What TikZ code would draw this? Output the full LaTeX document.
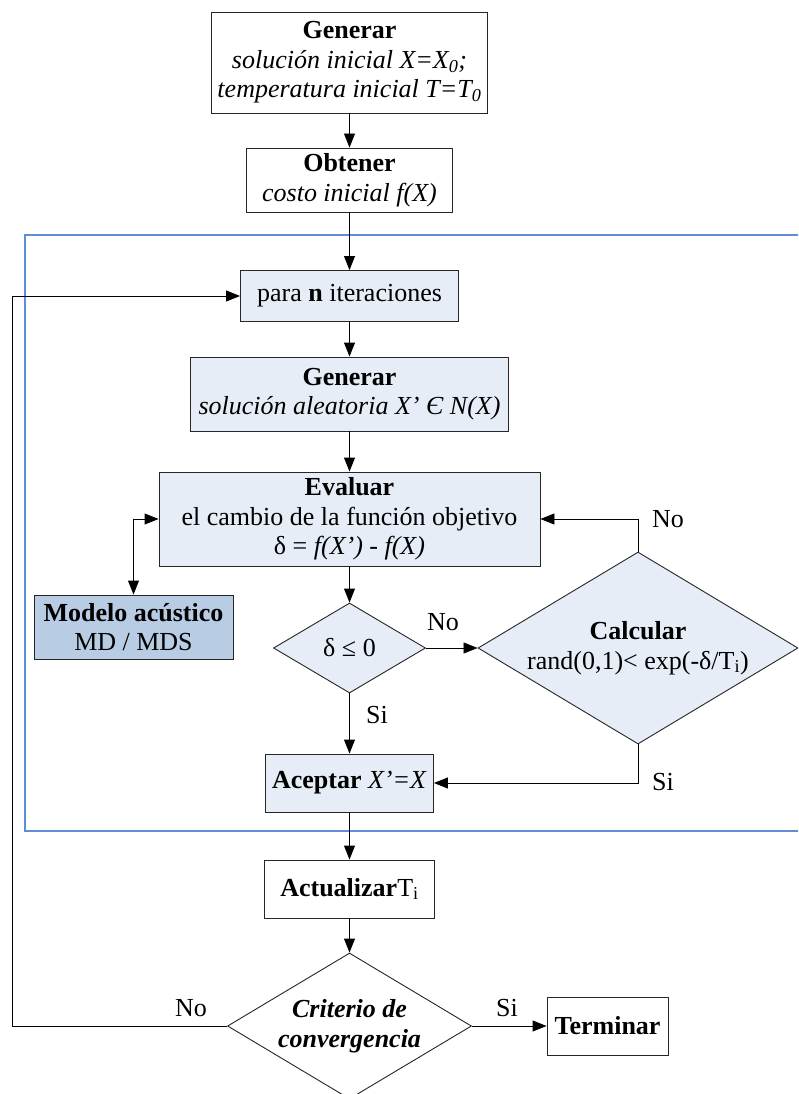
\documentclass[tikz,border=0pt]{standalone}
\usepackage{fontspec}
\setmainfont{Liberation Serif}
\usepackage{tikz}
\usetikzlibrary{shapes.geometric}
\usetikzlibrary{arrows.meta}
\usepackage{xcolor}

\definecolor{boxfill}{RGB}{230,237,247}
\definecolor{modelfill}{RGB}{184,204,228}
\definecolor{framecolor}{RGB}{95,142,212}

\begin{document}
\begin{tikzpicture}[x=1pt, y=-1pt, line width=0.9pt,
    >={Triangle[length=14pt,width=11pt]},
    font=\fontsize{26}{29.5}\selectfont,
    plainbox/.style={draw=black!85, align=center, inner sep=0pt},
    bluebox/.style={plainbox, fill=boxfill},
    decision/.style={diamond, draw=black!85, fill=boxfill, align=center, inner sep=0pt, aspect=1.7},
    lbl/.style={inner sep=0pt}]

\clip (0,0) rectangle (798,1094);

% frame of the inner loop
\draw[framecolor, line width=1.3pt] (810,235) -| (25,831) -- (810,831);

% boxes
\node[plainbox, minimum width=276, minimum height=101] (gen0) at (349.5,62.5)
    {\textbf{Generar}\\ \textit{solución inicial X=X\textsubscript{0};}\\ \textit{temperatura inicial T=T\textsubscript{0}}};
\node[plainbox, minimum width=206, minimum height=64] (obt) at (349.5,180)
    {\textbf{Obtener}\\ \textit{costo inicial f(X)}};
\node[bluebox, minimum width=218, minimum height=51] (para) at (349.5,296)
    {para \textbf{n} iteraciones};
\node[bluebox, minimum width=318, minimum height=74] (gen1) at (349.5,394)
    {\textbf{Generar}\\ \textit{solución aleatoria X’ Є N(X)}};
\node[bluebox, minimum width=381, minimum height=94] (eval) at (349.5,519)
    {\textbf{Evaluar}\\ el cambio de la función objetivo\\ δ = \textit{f(X’) - f(X)}};
\node[plainbox, fill=modelfill, minimum width=199, minimum height=64] (modelo) at (133.5,627)
    {\textbf{Modelo acústico}\\ MD / MDS};
\node[decision, minimum width=152, minimum height=90] (delta) at (349.5,648) {δ ≤ 0};
\node[decision, minimum width=320, minimum height=192] (calc) at (638,648)
    {\textbf{Calcular}\\ rand(0,1)< exp(-δ/T\textsubscript{i})};
\node[bluebox, minimum width=168, minimum height=58] (acep) at (349.5,783)
    {\textbf{Aceptar} \textit{X’=X}};
\node[plainbox, minimum width=170, minimum height=58] (actu) at (349.5,889)
    {\textbf{Actualizar}T\textsubscript{i}};
\node[decision, fill=white, minimum width=244, minimum height=146] (crit) at (349.5,1026)
    {\textbf{\textit{Criterio de}}\\ \textbf{\textit{convergencia}}};
\node[plainbox, minimum width=121, minimum height=58] (term) at (607.5,1026)
    {\textbf{Terminar}};

% labels
\node[lbl] (no1) at (443,622) {No};
\node[lbl] (si1) at (377,715) {Si};
\node[lbl] (no2) at (668,519) {No};
\node[lbl] (si2) at (663,782) {Si};
\node[lbl] (no3) at (191,1008) {No};
\node[lbl] (si3) at (507,1008) {Si};

% connectors
\foreach \from/\to in {gen0/obt, obt/para, para/gen1, gen1/eval, eval/delta, delta/acep, acep/actu, actu/crit}
    \draw[->] (\from) -- (\to);
\draw[->] (delta) -- (calc);
\draw[->] (calc.south) |- (acep.east);
\draw[->] (calc.north) |- (eval.east);
\draw[<->] (modelo.north) |- (eval.west);
\draw[->] (crit) -- (term);
\coordinate (back) at (12,1026);
\draw[->] (crit.west) -- (back) |- (para.west);

\end{tikzpicture}
\end{document}
